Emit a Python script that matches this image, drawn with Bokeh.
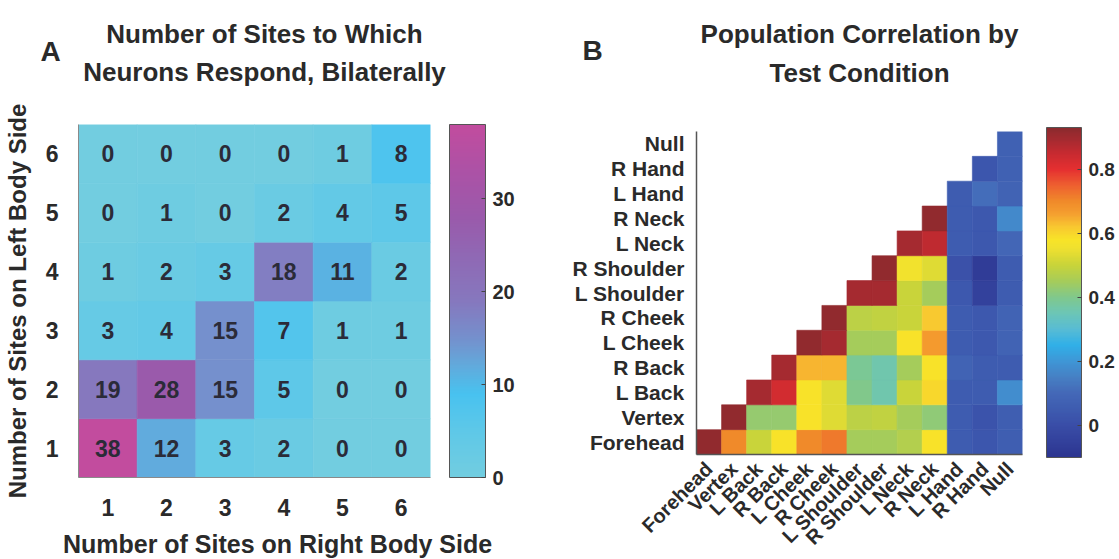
import math
import numpy as np
from bokeh.plotting import figure
from bokeh.layouts import row, column
from bokeh.models import (ColumnDataSource, LinearColorMapper, ColorBar, FixedTicker,
                          CustomJSTickFormatter, FactorRange, Range1d)
from bokeh.embed import file_html
from bokeh.resources import INLINE
from bokeh.core.properties import value

FONT = "Liberation Sans"
INK = "#2a2a2a"

# ---- Panel A: neurons by number of responsive sites on each body side ----
right_sites = [1, 2, 3, 4, 5, 6]          # columns (right body side)
left_sites = [1, 2, 3, 4, 5, 6]           # rows (left body side)
left_1 = [38, 12, 3, 2, 0, 0]
left_2 = [19, 28, 15, 5, 0, 0]
left_3 = [3, 4, 15, 7, 1, 1]
left_4 = [1, 2, 3, 18, 11, 2]
left_5 = [0, 1, 0, 2, 4, 5]
left_6 = [0, 0, 0, 0, 1, 8]
count_ticks = [0, 10, 20, 30]
count_max = 38

# ---- Panel B: population correlation between test conditions ----
conditions = ["Forehead", "Vertex", "L Back", "R Back", "L Cheek", "R Cheek",
              "L Shoulder", "R Shoulder", "L Neck", "R Neck", "L Hand", "R Hand", "Null"]
# each row starts at its own diagonal and runs to "Null"
corr_forehead = [0.92, 0.70, 0.50, 0.58, 0.70, 0.72, 0.45, 0.45, 0.47, 0.58, 0.05, 0.03, 0.06]
corr_vertex = [0.92, 0.43, 0.43, 0.58, 0.53, 0.48, 0.49, 0.45, 0.42, 0.05, 0.02, 0.06]
corr_l_back = [0.89, 0.83, 0.58, 0.53, 0.40, 0.36, 0.50, 0.60, 0.05, 0.05, 0.18]
corr_r_back = [0.89, 0.64, 0.64, 0.39, 0.36, 0.45, 0.58, 0.08, 0.05, 0.05]
corr_l_cheek = [0.92, 0.89, 0.45, 0.45, 0.58, 0.67, 0.05, 0.04, 0.08]
corr_r_cheek = [0.92, 0.48, 0.49, 0.50, 0.62, 0.05, 0.04, 0.08]
corr_l_shoulder = [0.89, 0.89, 0.50, 0.45, 0.04, -0.05, 0.05]
corr_r_shoulder = [0.92, 0.56, 0.53, 0.01, -0.07, 0.05]
corr_l_neck = [0.89, 0.86, 0.05, 0.04, 0.09]
corr_r_neck = [0.92, 0.05, 0.04, 0.17]
corr_l_hand = [0.05, 0.11, 0.08]
corr_r_hand = [0.03, 0.07]
corr_null = [0.07]
corr_ticks = [0, 0.2, 0.4, 0.6, 0.8]
corr_low, corr_high = -0.10, 0.93


def blend(stops, n=256):
    pos = np.array([s[0] for s in stops], float)
    rgb = np.array([[int(s[1][i:i + 2], 16) for i in (1, 3, 5)] for s in stops], float)
    out = []
    for k in np.linspace(pos[0], pos[-1], n):
        c = [int(round(np.interp(k, pos, rgb[:, j]))) for j in range(3)]
        out.append("#%02x%02x%02x" % tuple(c))
    return out


cyan_magenta = blend([(0, "#72cde0"), (5, "#5ec8e8"), (9, "#48c2f0"), (12, "#62aadc"),
                      (15, "#7590cd"), (19, "#8678be"), (24, "#9068b4"), (28, "#9a5aab"),
                      (33, "#ac52a6"), (38, "#c24c9e")])
jet_soft = blend([(-0.10, "#2c3590"), (0.0, "#3a4ea8"), (0.05, "#3e5cb0"), (0.10, "#4468b8"),
                  (0.15, "#4680c4"), (0.20, "#3f96d6"), (0.25, "#30b0e8"), (0.30, "#58bcd4"),
                  (0.35, "#6cc6b6"), (0.40, "#80c88c"), (0.45, "#a6cc5a"), (0.50, "#c8d43a"),
                  (0.55, "#eee030"), (0.58, "#f8e428"), (0.62, "#f8c830"), (0.66, "#f5a030"),
                  (0.70, "#f08a2a"), (0.75, "#ee6030"), (0.80, "#e53030"), (0.85, "#c82a30"),
                  (0.89, "#a82a30"), (0.93, "#8b2a2e")])


def text_strip(width, height):
    """Blank strip (pixel coordinates, y downward) that carries headings."""
    s = figure(width=width, height=height, x_range=Range1d(0, width), y_range=Range1d(height, 0),
               output_backend="svg", toolbar_location=None, x_axis_location=None,
               y_axis_location=None, min_border=0)
    s.outline_line_color = None
    s.grid.visible = False
    return s


def heading(s, x, y, text, size, align="center"):
    s.text(x=[x], y=[y], text=[text], text_align=align, text_baseline="middle",
           text_font=value(FONT), text_font_style="bold", text_font_size=size, text_color=INK)


# ================= Panel A =================
rows_a = [left_1, left_2, left_3, left_4, left_5, left_6]
xa, ya, va = [], [], []
for yi, vals in zip(left_sites, rows_a):
    for xi, v in zip(right_sites, vals):
        xa.append(xi)
        ya.append(yi)
        va.append(v)
src_a = ColumnDataSource(dict(x=xa, y=ya, v=va, t=[str(v) for v in va]))
map_a = LinearColorMapper(palette=cyan_magenta, low=0, high=count_max)

pa = figure(width=560, height=422, x_range=(0.5, 6.5), y_range=(0.5, 6.5),
            output_backend="svg", toolbar_location=None,
            min_border_left=77, min_border_right=130, min_border_top=24, min_border_bottom=45)
pa.outline_line_color = None
pa.grid.visible = False
pa.rect(x="x", y="y", width=1, height=1, source=src_a,
        fill_color={"field": "v", "transform": map_a},
        line_color={"field": "v", "transform": map_a}, line_width=0.6)
pa.text(x="x", y="y", text="t", source=src_a, text_align="center", text_baseline="middle",
        text_font=value(FONT), text_font_style="bold", text_font_size="23px", text_color="#2b2b38")

for ax in (pa.xaxis[0], pa.yaxis[0]):
    ax.ticker = FixedTicker(ticks=right_sites)
    ax.major_tick_line_color = None
    ax.minor_tick_line_color = None
    ax.axis_line_color = "#8a8a8a"
    ax.major_label_text_font = FONT
    ax.major_label_text_font_style = "bold"
    ax.major_label_text_font_size = "23px"
    ax.major_label_text_color = INK
pa.xaxis.major_label_standoff = 15
pa.yaxis.major_label_standoff = 14
pa.yaxis.axis_label = "Number of Sites on Left Body Side"
pa.yaxis.axis_label_text_font = FONT
pa.yaxis.axis_label_text_font_style = "bold"
pa.yaxis.axis_label_text_font_size = "24px"
pa.yaxis.axis_label_text_color = INK
pa.yaxis.axis_label_standoff = 12

cb_a = ColorBar(color_mapper=map_a, ticker=FixedTicker(ticks=count_ticks), width=36, height=353,
                padding=0, margin=0, location=(19, 0), label_standoff=7,
                bar_line_color="#555555", major_tick_in=4, major_tick_out=0,
                major_tick_line_color="#444444", minor_tick_line_color=None,
                major_label_text_font=FONT, major_label_text_font_style="bold",
                major_label_text_font_size="20px", major_label_text_color=INK,
                background_fill_color=None, border_line_color=None)
pa.add_layout(cb_a, "right")

head_a = text_strip(560, 100)
heading(head_a, 264, 33, "Number of Sites to Which", "26px")
heading(head_a, 264, 71, "Neurons Respond, Bilaterally", "26px")
heading(head_a, 40, 51, "A", "28px", align="left")

foot_a = text_strip(560, 37)
heading(foot_a, 277, 21, "Number of Sites on Right Body Side", "25px")

# ================= Panel B =================
rows_b = [corr_forehead, corr_vertex, corr_l_back, corr_r_back, corr_l_cheek, corr_r_cheek,
          corr_l_shoulder, corr_r_shoulder, corr_l_neck, corr_r_neck, corr_l_hand, corr_r_hand,
          corr_null]
xb, yb, vb = [], [], []
for r, vals in enumerate(rows_b):
    for k, v in enumerate(vals):
        xb.append(conditions[r + k])
        yb.append(conditions[r])
        vb.append(v)
src_b = ColumnDataSource(dict(x=xb, y=yb, v=vb))
map_b = LinearColorMapper(palette=jet_soft, low=corr_low, high=corr_high)

pb = figure(width=559, height=459, x_range=FactorRange(*conditions), y_range=FactorRange(*conditions),
            output_backend="svg", toolbar_location=None,
            min_border_left=136, min_border_right=97, min_border_top=31, min_border_bottom=102)
pb.outline_line_color = None
pb.grid.visible = False
pb.rect(x="x", y="y", width=1, height=1, source=src_b,
        fill_color={"field": "v", "transform": map_b},
        line_color={"field": "v", "transform": map_b}, line_width=0.6)

for ax in (pb.xaxis[0], pb.yaxis[0]):
    ax.major_tick_line_color = None
    ax.minor_tick_line_color = None
    ax.axis_line_color = "#555555"
    ax.axis_line_width = 1.5
    ax.major_label_text_font = FONT
    ax.major_label_text_font_style = "bold"
    ax.major_label_text_color = INK
pb.xaxis.major_label_text_font_size = "20px"
pb.yaxis.major_label_text_font_size = "21px"
pb.xaxis.major_label_standoff = 5
pb.yaxis.major_label_standoff = 6
pb.xaxis.major_label_orientation = math.pi / 4

cb_b = ColorBar(color_mapper=map_b, ticker=FixedTicker(ticks=corr_ticks), width=35, height=330,
                padding=0, margin=0, location=(24, -3), label_standoff=7,
                formatter=CustomJSTickFormatter(code="return String(Math.round(tick * 10) / 10);"),
                bar_line_color="#555555", major_tick_in=4, major_tick_out=0,
                major_tick_line_color="#444444", minor_tick_line_color=None,
                major_label_text_font=FONT, major_label_text_font_style="bold",
                major_label_text_font_size="19px", major_label_text_color=INK,
                background_fill_color=None, border_line_color=None)
pb.add_layout(cb_b, "right")

head_b = text_strip(559, 100)
heading(head_b, 299, 33, "Population Correlation by", "26px")
heading(head_b, 299, 72, "Test Condition", "26px")
heading(head_b, 22, 50, "B", "28px", align="left")

# each panel keeps its own frame position
for p in (pa, pb, head_a, foot_a, head_b):
    if "frame_align" in p.properties():
        p.frame_align = False

layout = row(column(head_a, pa, foot_a, spacing=0), column(head_b, pb, spacing=0), spacing=0)
open("out.html", "w").write(file_html(layout, INLINE))
